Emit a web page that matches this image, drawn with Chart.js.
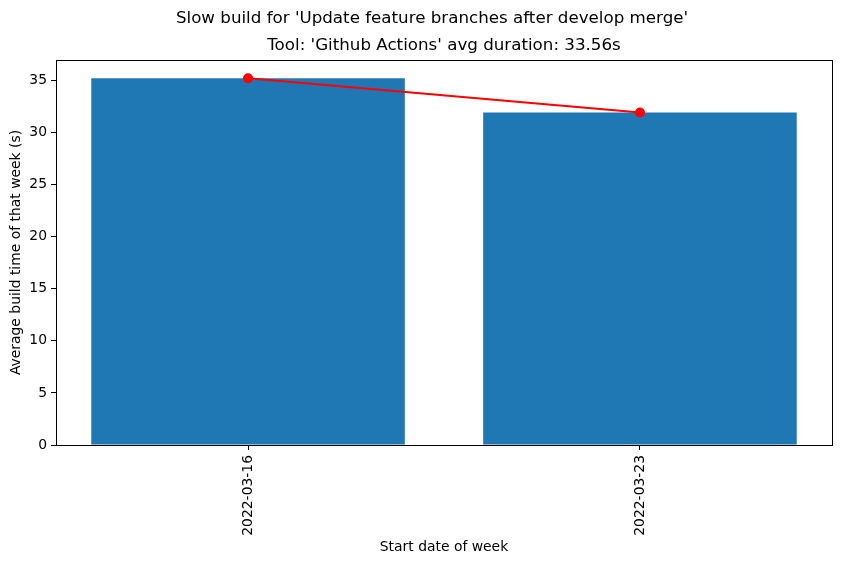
<!DOCTYPE html>
<html>
<head>
<meta charset="utf-8">
<script src="https://cdn.jsdelivr.net/npm/chart.js@4"></script>
<style>
  body { margin: 0; background: #ffffff; }
</style>
</head>
<body>
<canvas id="chart-build" width="841" height="564"></canvas>
<script>
// Dados do gráfico
const semanas = ['2022-03-16', '2022-03-23'];
const duracaoMedia = [35.2, 31.92];
const ticksY = [0, 5, 10, 15, 20, 25, 30, 35];

const tituloPrincipal = "Slow build for 'Update feature branches after develop merge'";
const subtitulo = "Tool: 'Github Actions' avg duration: 33.56s";

const fonte = 'DejaVu Sans';

// Titulos e moldura dos eixos
const extras = {
    id: 'extras',
    afterDraw(chart) {
        const ctx = chart.ctx;
        const area = chart.chartArea;
        ctx.save();
        ctx.strokeStyle = '#000000';
        ctx.lineWidth = 1;
        ctx.strokeRect(area.left + 0.5, area.top + 0.5, area.right - area.left, area.bottom - area.top);

        ctx.fillStyle = '#000000';
        ctx.textAlign = 'center';
        ctx.textBaseline = 'middle';
        ctx.font = '16.7px "' + fonte + '"';
        ctx.fillText(tituloPrincipal, 432, 19);
        ctx.fillText(subtitulo, (area.left + area.right) / 2, 46);
        ctx.restore();
    }
};

const pontos = (valores) => valores.map((v, i) => ({ x: i, y: v }));

new Chart(document.getElementById('chart-build'), {
    data: {
        datasets: [
            {
                type: 'line',
                data: pontos(duracaoMedia),
                borderColor: '#ff0000',
                backgroundColor: '#ff0000',
                borderWidth: 2,
                pointRadius: 5,
                pointBorderWidth: 0,
                order: 0
            },
            {
                type: 'bar',
                data: pontos(duracaoMedia),
                backgroundColor: '#1f77b4',
                borderColor: '#1f77b4',
                borderWidth: 0,
                inflateAmount: 0,
                barPercentage: 0.8,
                categoryPercentage: 1,
                order: 1
            }
        ]
    },
    options: {
        responsive: false,
        animation: false,
        layout: { padding: { left: 0, right: 9, top: 60, bottom: 0 } },
        plugins: {
            legend: { display: false },
            tooltip: { enabled: false }
        },
        scales: {
            x: {
                type: 'linear',
                min: -0.49,
                max: 1.49,
                offset: false,
                afterBuildTicks: (s) => { s.ticks = semanas.map((_, i) => ({ value: i })); },
                afterFit: (s) => { s.height = 119; },
                ticks: {
                    autoSkip: false,
                    minRotation: 90,
                    maxRotation: 90,
                    padding: 5,
                    color: '#000000',
                    font: { family: fonte, size: 13.9 },
                    callback: (v) => semanas[v]
                },
                grid: { offset: false, drawOnChartArea: false, drawTicks: true, tickLength: 5, color: '#000000' },
                border: { display: false },
                title: {
                    display: true,
                    text: 'Start date of week',
                    color: '#000000',
                    font: { family: fonte, size: 13.9 },
                    padding: { top: 0, bottom: 8 }
                }
            },
            y: {
                min: 0,
                max: 36.96,
                afterBuildTicks: (s) => { s.ticks = ticksY.map(v => ({ value: v })); },
                afterFit: (s) => { s.width = 56; },
                ticks: {
                    padding: 4,
                    color: '#000000',
                    font: { family: fonte, size: 13.9 }
                },
                grid: { drawOnChartArea: false, drawTicks: true, tickLength: 5, color: '#000000' },
                border: { display: false },
                title: {
                    display: true,
                    text: 'Average build time of that week (s)',
                    color: '#000000',
                    font: { family: fonte, size: 13.9 },
                    padding: { top: 8, bottom: 0 }
                }
            }
        }
    },
    plugins: [extras]
});
</script>
</body>
</html>
